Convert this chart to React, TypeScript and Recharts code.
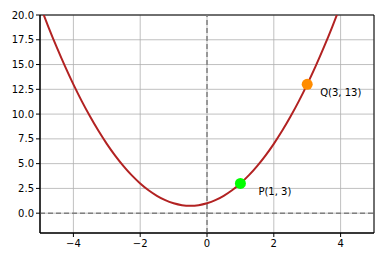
import React from 'react';
import {
  ComposedChart,
  Line,
  Scatter,
  XAxis,
  YAxis,
  CartesianGrid,
  ReferenceLine,
  ReferenceArea,
} from 'recharts';

// curve samples
const curveX = [
  -5, -4.75, -4.5, -4.25, -4, -3.75, -3.5, -3.25, -3, -2.75, -2.5, -2.25, -2,
  -1.75, -1.5, -1.25, -1, -0.75, -0.5, -0.25, 0, 0.25, 0.5, 0.75, 1, 1.25, 1.5,
  1.75, 2, 2.25, 2.5, 2.75, 3, 3.25, 3.5, 3.75, 4, 4.25, 4.5, 4.75, 5,
];
const curveY = [
  21, 18.81, 16.75, 14.81, 13, 11.31, 9.75, 8.31, 7, 5.81, 4.75, 3.81, 3,
  2.31, 1.75, 1.31, 1, 0.81, 0.75, 0.81, 1, 1.31, 1.75, 2.31, 3, 3.81, 4.75,
  5.81, 7, 8.31, 9.75, 11.31, 13, 14.81, 16.75, 18.81, 21, 23.31, 25.75, 28.31, 31,
];

const pointNames = ['P(1, 3)', 'Q(3, 13)'];
const pointX = [1, 3];
const pointY = [3, 13];
const pointColors = ['#00ff00', '#ff8c00'];
const labelDx = [18, 13];

const xTicks = [-4, -2, 0, 2, 4];
const yTicks = [0, 2.5, 5, 7.5, 10, 12.5, 15, 17.5, 20];

const curve = curveX.map((x, i) => ({ x, y: curveY[i] }));
const points = pointX.map((x, i) => ({ x, y: pointY[i], name: pointNames[i], idx: i }));

const font = 'DejaVu Sans, sans-serif';
const fmtX = (v: number) => String(v).replace('-', '\u2212');
const fmtY = (v: number) => v.toFixed(1).replace('-', '\u2212');

const PointShape = (props: any) => {
  const { cx, cy, payload } = props;
  const i = payload.idx;
  return (
    <g>
      <circle cx={cx} cy={cy} r={5.5} fill={pointColors[i]} />
      <text x={cx + labelDx[i]} y={cy + 12} fontSize={10} fontFamily={font} fill="#000">
        {payload.name}
      </text>
    </g>
  );
};

export default function App() {
  return (
    <div style={{ position: 'absolute', left: 0, top: 0, background: '#fff' }}>
      <ComposedChart
        width={390}
        height={262}
        data={curve}
        margin={{ top: 15, right: 16, bottom: 0, left: 0 }}
      >
        <CartesianGrid stroke="#b0b0b0" strokeWidth={0.8} />
        <XAxis
          type="number"
          dataKey="x"
          domain={[-5, 5]}
          ticks={xTicks}
          tickFormatter={fmtX}
          allowDataOverflow
          height={29}
          tickSize={4}
          tickMargin={3}
          stroke="#000"
          tick={{ fill: '#000', fontSize: 10, fontFamily: font }}
        />
        <YAxis
          type="number"
          dataKey="y"
          domain={[-2, 20]}
          ticks={yTicks}
          tickFormatter={fmtY}
          allowDataOverflow
          width={40}
          tickSize={4}
          tickMargin={2}
          stroke="#000"
          tick={{ fill: '#000', fontSize: 10, fontFamily: font }}
        />
        <ReferenceLine x={0} stroke="#808080" strokeWidth={1.5} strokeDasharray="5 3" />
        <ReferenceLine y={0} stroke="#808080" strokeWidth={1.5} strokeDasharray="5 3" />
        <Line
          type="monotone"
          dataKey="y"
          stroke="#b22222"
          strokeWidth={2}
          dot={false}
          isAnimationActive={false}
        />
        <Scatter data={points} dataKey="y" shape={<PointShape />} isAnimationActive={false} />
        <ReferenceArea x1={-5} x2={5} y1={-2} y2={20} fill="none" stroke="#000" strokeWidth={1} />
      </ComposedChart>
    </div>
  );
}
